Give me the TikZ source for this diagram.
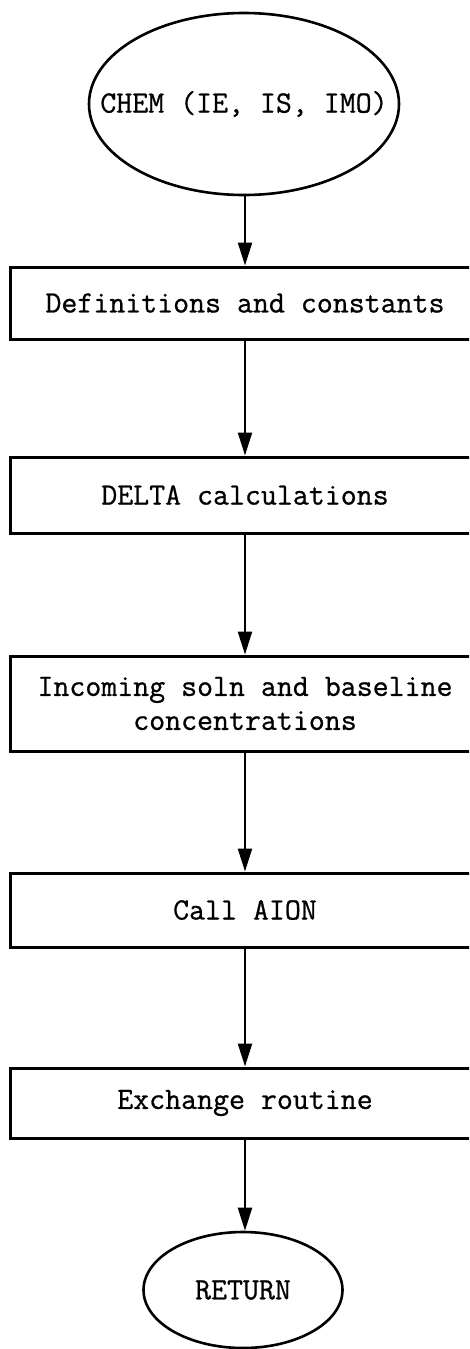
\documentclass[tikz,border=0pt]{standalone}
\usepackage{fontspec}
\setmonofont[FakeBold=0.8]{Latin Modern Mono}
\usetikzlibrary{arrows.meta,shapes.geometric}
\tikzset{
  txt/.style={font=\ttfamily\fontsize{31}{34}\selectfont, align=center, inner sep=0pt},
  stepbox/.style={draw, line width=3pt, rectangle, minimum width=470pt, txt},
  terminal/.style={draw, line width=2.6pt, ellipse, inner sep=0pt},
  flow/.style={line width=2.2pt, -{Triangle[length=23pt,width=14pt]}}
}
\begin{document}
\begin{tikzpicture}[x=1pt,y=-1pt]
  \useasboundingbox (0,0) rectangle (469,1349);
  \clip (0,0) rectangle (469,1349);
  % start and end terminals (label set on top so it may touch the outline)
  \node[terminal, minimum width=310pt, minimum height=182pt] (chem) at (244,104) {};
  \node[txt] (chemlbl) at (chem.center) {CHEM (IE, IS, IMO)};
  \node[terminal, minimum width=199pt, minimum height=116pt] (ret) at (243,1290) {};
  \node[txt] (retlbl) at (ret.center) {RETURN};
  % processing steps
  \node[stepbox, minimum height=72pt] (defs) at (245,303) {Definitions and constants};
  \node[stepbox, minimum height=76pt] (delta) at (245,495) {DELTA calculations};
  \node[stepbox, minimum height=95pt] (inc) at (245,703.5) {Incoming soln and baseline\\concentrations};
  \node[stepbox, minimum height=74pt] (aion) at (245,910) {Call AION};
  \node[stepbox, minimum height=70pt] (exch) at (245,1103) {Exchange routine};
  % connectors
  \draw[flow] (chem.south) -- (chem.south -| defs.north) -- (defs.north);
  \draw[flow] (defs) -- (delta);
  \draw[flow] (delta) -- (inc);
  \draw[flow] (inc) -- (aion);
  \draw[flow] (aion) -- (exch);
  \draw[flow] (exch.south) -- (exch.south |- ret.north);
\end{tikzpicture}
\end{document}
